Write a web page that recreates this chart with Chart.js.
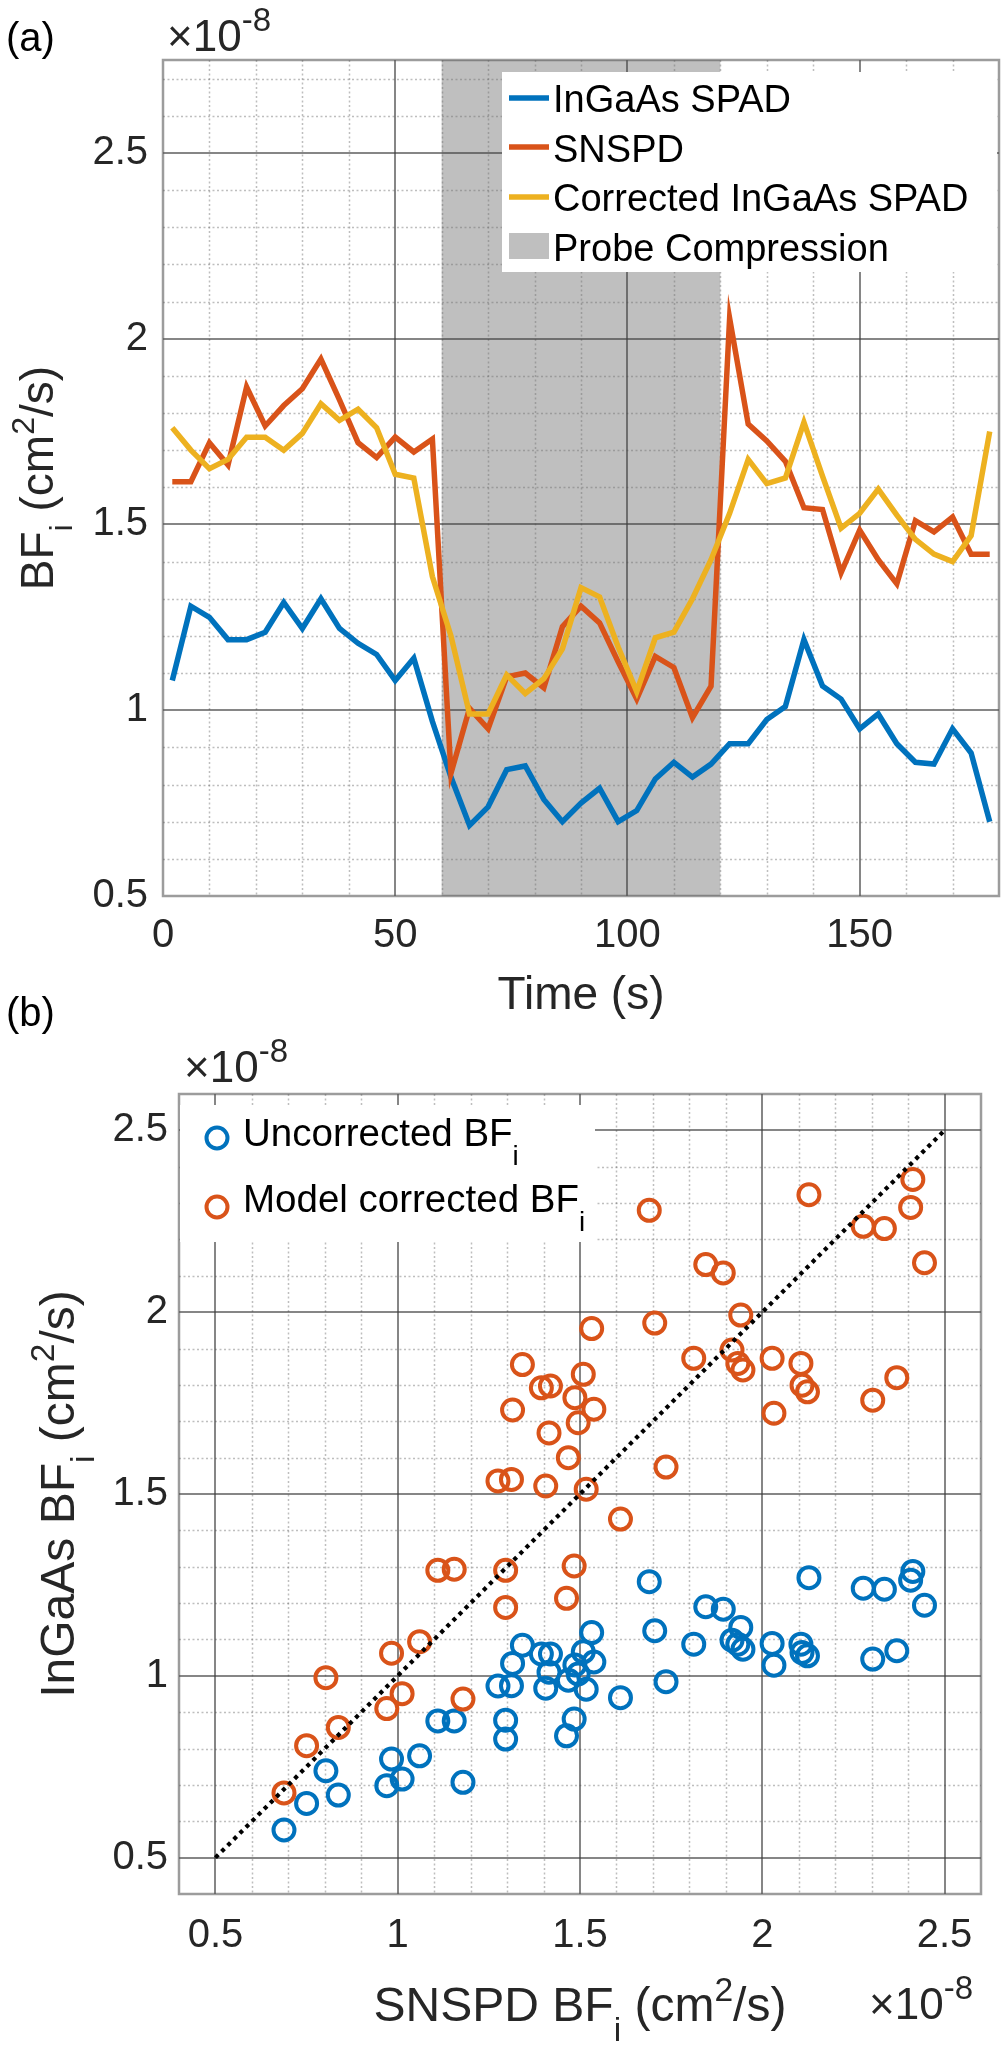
<!DOCTYPE html>
<html>
<head>
<meta charset="utf-8">
<script src="https://cdn.jsdelivr.net/npm/chart.js@4.4.1/dist/chart.umd.min.js"></script>
<style>
  html, body { margin: 0; padding: 0; background: #ffffff; }
  body { width: 1003px; height: 2050px; position: relative; overflow: hidden; }
  #ca { position: absolute; left: 0; top: 0; }
  #cb { position: absolute; left: 0; top: 990px; }
</style>
</head>
<body>
<canvas id="ca" width="1003" height="1030"></canvas>
<canvas id="cb" width="1003" height="1060"></canvas>
<script>
// ---------------- Panel (a) data (BF values in units of 1e-8 cm^2/s) ----------------
const timeS = [2, 6, 10, 14, 18, 22, 26, 30, 34, 38, 42, 46, 50, 54, 58, 62, 66, 70, 74, 78, 82, 86, 90,
  94, 98, 102, 106, 110, 114, 118, 122, 126, 130, 134, 138, 142, 146, 150, 154, 158, 162, 166, 170, 174, 178];
const ingaasSpad = [1.08, 1.28, 1.25, 1.19, 1.19, 1.21, 1.29, 1.22, 1.30, 1.22, 1.18, 1.15, 1.08, 1.14, 0.97,
  0.82, 0.69, 0.74, 0.84, 0.85, 0.76, 0.70, 0.75, 0.79, 0.70, 0.73, 0.815, 0.86, 0.82, 0.855, 0.91, 0.91,
  0.975, 1.01, 1.19, 1.065, 1.03, 0.95, 0.99, 0.91, 0.86, 0.855, 0.95, 0.885, 0.70];
const snspd = [1.615, 1.615, 1.72, 1.66, 1.87, 1.765, 1.82, 1.865, 1.945, 1.835, 1.72, 1.68, 1.735, 1.695, 1.73,
  0.83, 1.005, 0.95, 1.09, 1.10, 1.06, 1.225, 1.28, 1.235, 1.13, 1.03, 1.145, 1.115, 0.98, 1.065, 2.055, 1.77,
  1.725, 1.67, 1.545, 1.54, 1.37, 1.485, 1.405, 1.34, 1.51, 1.48, 1.52, 1.42, 1.42];
const correctedSpad = [1.76, 1.70, 1.65, 1.675, 1.735, 1.735, 1.70, 1.745, 1.825, 1.78, 1.81, 1.76, 1.635, 1.625,
  1.36, 1.20, 0.99, 0.99, 1.095, 1.045, 1.085, 1.165, 1.33, 1.305, 1.17, 1.05, 1.195, 1.21, 1.30, 1.405, 1.53,
  1.675, 1.61, 1.625, 1.775, 1.63, 1.49, 1.53, 1.595, 1.525, 1.46, 1.42, 1.40, 1.47, 1.75];
const probeCompression = [60, 120];
const seriesNamesA = ['InGaAs SPAD', 'SNSPD', 'Corrected InGaAs SPAD', 'Probe Compression'];
const timeTicks = [0, 50, 100, 150];
const bfTicksA = [0.5, 1, 1.5, 2, 2.5];

// ---------------- Panel (b) data (units of 1e-8 cm^2/s) ----------------
const snspdBF = [0.688, 0.750, 0.803, 0.837, 0.970, 0.983, 1.012, 1.060, 1.110, 1.155, 1.179, 1.275, 1.296, 1.296,
  1.312, 1.315, 1.342, 1.394, 1.406, 1.415, 1.419, 1.463, 1.468, 1.484, 1.486, 1.495, 1.509, 1.517, 1.532, 1.538,
  1.611, 1.690, 1.705, 1.736, 1.812, 1.845, 1.893, 1.917, 1.933, 1.941, 1.947, 2.027, 2.032, 2.106, 2.109, 2.124,
  2.128, 2.277, 2.303, 2.335, 2.369, 2.407, 2.413, 2.445];
const uncorrectedBF = [0.576, 0.649, 0.739, 0.672, 0.698, 0.771, 0.716, 0.780, 0.876, 0.876, 0.707, 0.972, 0.878,
  0.826, 0.973, 1.034, 1.084, 1.060, 0.966, 1.010, 1.060, 0.835, 0.988, 0.881, 1.030, 1.005, 1.066, 0.963, 1.119,
  1.038, 0.940, 1.259, 1.124, 0.984, 1.087, 1.190, 1.183, 1.098, 1.087, 1.133, 1.073, 1.089, 1.029, 1.087, 1.064,
  1.055, 1.270, 1.241, 1.046, 1.238, 1.069, 1.263, 1.287, 1.194];
const modelCorrectedBF = [0.678, 0.808, 0.995, 0.858, 0.910, 1.062, 0.951, 1.094, 1.290, 1.293, 0.936, 1.536, 1.290,
  1.188, 1.540, 1.731, 1.856, 1.792, 1.522, 1.668, 1.797, 1.213, 1.600, 1.302, 1.765, 1.696, 1.829, 1.513, 1.955,
  1.733, 1.431, 2.280, 1.970, 1.574, 1.873, 2.131, 2.108, 1.896, 1.859, 1.992, 1.841, 1.873, 1.722, 1.859, 1.799,
  1.781, 2.323, 2.236, 1.758, 2.230, 1.820, 2.288, 2.365, 2.136];
const identityLine = [0.5, 2.5];
const seriesNamesB = ['Uncorrected BF', 'Model corrected BF'];
const bfTicksB = [0.5, 1, 1.5, 2, 2.5];

// ---------------- styling helpers ----------------
const FAM = '"Liberation Sans", Arial, Helvetica, sans-serif';
const TXT = '#262626';
const C_BLUE = '#0072BD', C_RED = '#D95319', C_YEL = '#EDB120', C_PATCH = '#bfbfbf';

function partSize(p, size) { return (p.sub || p.sup) ? size * (p.k || 0.7) : size; }
function richWidth(ctx, parts, size) {
  let w = 0;
  for (const p of parts) {
    ctx.font = partSize(p, size) + 'px ' + FAM;
    w += ctx.measureText(p.t).width;
  }
  return w;
}
function drawRich(ctx, parts, x, y, size, align, rot, color) {
  ctx.save();
  ctx.translate(x, y);
  if (rot) ctx.rotate(rot);
  ctx.fillStyle = color || TXT;
  ctx.textBaseline = 'alphabetic';
  ctx.textAlign = 'left';
  const w = richWidth(ctx, parts, size);
  let cx = align === 'center' ? -w / 2 : 0;
  for (const p of parts) {
    ctx.font = partSize(p, size) + 'px ' + FAM;
    const dy = p.sub ? size * (p.d || 0.42) : (p.sup ? -size * (p.d || 0.42) : 0);
    ctx.fillText(p.t, cx, dy);
    cx += ctx.measureText(p.t).width;
  }
  ctx.restore();
}

function range(a, b, step) { // grid spacing helper (not data)
  const out = [];
  for (let v = a; v <= b + 1e-9; v += step) out.push(Math.round(v * 1000) / 1000);
  return out;
}

function gridPlugin(cfg) {
  return {
    id: 'matlabGrid',
    beforeDatasetsDraw(chart) {
      const { ctx, chartArea: a, scales } = chart;
      const x = scales.x, y = scales.y;
      ctx.save();
      if (cfg.patch) {
        const x0 = x.getPixelForValue(cfg.patch[0]);
        const x1 = x.getPixelForValue(cfg.patch[1]);
        ctx.fillStyle = C_PATCH;
        ctx.fillRect(x0, a.top, x1 - x0, a.bottom - a.top);
      }
      const isMajor = (v, majors) => majors.some(m => Math.abs(m - v) < 1e-6);
      // minor grid
      ctx.setLineDash([2, 2.5]);
      ctx.lineWidth = 1.5;
      ctx.strokeStyle = 'rgba(110,110,110,0.45)';
      for (const v of range(x.min, x.max, cfg.xMinor)) {
        if (isMajor(v, cfg.xMajor) || v <= x.min || v >= x.max) continue;
        const px = Math.round(x.getPixelForValue(v)) + 0.5;
        ctx.beginPath(); ctx.moveTo(px, a.top); ctx.lineTo(px, a.bottom); ctx.stroke();
      }
      for (const v of range(y.min, y.max, cfg.yMinor)) {
        if (isMajor(v, cfg.yMajor) || v <= y.min || v >= y.max) continue;
        const py = Math.round(y.getPixelForValue(v)) + 0.5;
        ctx.beginPath(); ctx.moveTo(a.left, py); ctx.lineTo(a.right, py); ctx.stroke();
      }
      // major grid
      ctx.setLineDash([]);
      ctx.lineWidth = 2;
      ctx.strokeStyle = 'rgba(60,60,60,0.62)';
      for (const v of cfg.xMajor) {
        if (v <= x.min || v >= x.max) continue;
        const px = Math.round(x.getPixelForValue(v));
        ctx.beginPath(); ctx.moveTo(px, a.top); ctx.lineTo(px, a.bottom); ctx.stroke();
      }
      for (const v of cfg.yMajor) {
        if (v <= y.min || v >= y.max) continue;
        const py = Math.round(y.getPixelForValue(v));
        ctx.beginPath(); ctx.moveTo(a.left, py); ctx.lineTo(a.right, py); ctx.stroke();
      }
      ctx.restore();
    },
    afterDatasetsDraw(chart) {
      const { ctx, chartArea: a } = chart;
      ctx.save();
      ctx.lineWidth = 2.5;
      ctx.strokeStyle = 'rgba(90,90,90,0.6)';
      ctx.strokeRect(a.left, a.top, a.right - a.left, a.bottom - a.top);
      ctx.restore();
      if (cfg.after) cfg.after(chart);
    }
  };
}

function baseScale(min, max, ticks, padding, fitFn) {
  return {
    type: 'linear', min: min, max: max,
    afterBuildTicks: s => { s.ticks = ticks.map(v => ({ value: v })); },
    afterFit: fitFn,
    grid: { display: false, drawTicks: false },
    border: { display: false },
    ticks: {
      font: { size: 40, family: FAM }, color: TXT, padding: padding,
      maxRotation: 0, minRotation: 0, autoSkip: false,
      callback: v => String(v)
    }
  };
}

const EXP = [{ t: '\u00d710' }, { t: '-8', sup: true, k: 0.75, d: 0.45 }];

// ---------------- Chart (a) ----------------
const lineDs = (label, vals, color, order) => ({
  type: 'line', label: label,
  data: timeS.map((t, i) => ({ x: t, y: vals[i] })),
  borderColor: color, borderWidth: 5.5, pointRadius: 0, tension: 0, fill: false,
  order: order, borderJoinStyle: 'miter', borderCapStyle: 'butt'
});

const afterA = (chart) => {
  const ctx = chart.ctx;
  ctx.save();
  ctx.fillStyle = '#ffffff';
  ctx.fillRect(502, 72, 495, 200);
  const rows = [
    { name: seriesNamesA[0], color: C_BLUE, cy: 98, base: 112 },
    { name: seriesNamesA[1], color: C_RED, cy: 147, base: 162 },
    { name: seriesNamesA[2], color: C_YEL, cy: 197, base: 211 },
    { name: seriesNamesA[3], color: C_PATCH, cy: 246, base: 261, patch: true }
  ];
  for (const r of rows) {
    if (r.patch) {
      ctx.fillStyle = r.color;
      ctx.fillRect(509, r.cy - 13, 40, 26);
    } else {
      ctx.strokeStyle = r.color; ctx.lineWidth = 5.5;
      ctx.beginPath(); ctx.moveTo(509, r.cy); ctx.lineTo(549, r.cy); ctx.stroke();
    }
    drawRich(ctx, [{ t: r.name }], 553, r.base, 38, 'left', 0, '#000');
  }
  ctx.restore();
  drawRich(ctx, [{ t: '(a)' }], 6, 51, 40, 'left', 0, '#000');
  drawRich(ctx, EXP, 167, 51, 44, 'left', 0, TXT);
  drawRich(ctx, [{ t: 'Time (s)' }], 581, 1009, 46, 'center', 0, TXT);
  drawRich(ctx, [{ t: 'BF' }, { t: 'i', sub: true }, { t: ' (cm' }, { t: '2', sup: true }, { t: '/s)' }],
    53, 478, 46, 'center', -Math.PI / 2, TXT);
};

new Chart(document.getElementById('ca'), {
  type: 'line',
  data: {
    datasets: [
      lineDs(seriesNamesA[0], ingaasSpad, C_BLUE, 3),
      lineDs(seriesNamesA[1], snspd, C_RED, 2),
      lineDs(seriesNamesA[2], correctedSpad, C_YEL, 1)
    ]
  },
  options: {
    responsive: false, animation: false, devicePixelRatio: 1,
    layout: { padding: { top: 60, right: 4, left: 0, bottom: 0 } },
    plugins: { legend: { display: false }, tooltip: { enabled: false } },
    events: [],
    scales: {
      x: baseScale(0, 180, timeTicks, 16, s => { s.height = 134; }),
      y: baseScale(0.5, 2.75, bfTicksA, 15, s => { s.width = 163; })
    }
  },
  plugins: [gridPlugin({
    patch: probeCompression,
    xMajor: timeTicks, yMajor: bfTicksA, xMinor: 10, yMinor: 0.1,
    after: afterA
  })]
});

// ---------------- Chart (b) ----------------
const afterB = (chart) => {
  const ctx = chart.ctx;
  ctx.save();
  ctx.fillStyle = '#ffffff';
  ctx.fillRect(180, 115, 415, 137);
  const rows = [
    { name: seriesNamesB[0], color: C_BLUE, cy: 148, base: 156 },
    { name: seriesNamesB[1], color: C_RED, cy: 217, base: 222 }
  ];
  for (const r of rows) {
    ctx.strokeStyle = r.color; ctx.lineWidth = 4;
    ctx.beginPath(); ctx.arc(217, r.cy, 10.5, 0, Math.PI * 2); ctx.stroke();
    drawRich(ctx, [{ t: r.name }, { t: 'i', sub: true, k: 0.72, d: 0.5 }], 243, r.base, 38.5, 'left', 0, '#000');
  }
  ctx.restore();
  drawRich(ctx, [{ t: '(b)' }], 6, 36, 40, 'left', 0, '#000');
  drawRich(ctx, EXP, 184, 92, 44, 'left', 0, TXT);
  drawRich(ctx, EXP, 869, 1029, 44, 'left', 0, TXT);
  drawRich(ctx, [{ t: 'SNSPD BF' }, { t: 'i', sub: true }, { t: ' (cm' }, { t: '2', sup: true }, { t: '/s)' }],
    580, 1031, 48, 'center', 0, TXT);
  drawRich(ctx, [{ t: 'InGaAs BF' }, { t: 'i', sub: true }, { t: ' (cm' }, { t: '2', sup: true }, { t: '/s)' }],
    74, 504, 48, 'center', -Math.PI / 2, TXT);
};

new Chart(document.getElementById('cb'), {
  type: 'scatter',
  data: {
    datasets: [
      {
        label: seriesNamesB[0],
        data: snspdBF.map((v, i) => ({ x: v, y: uncorrectedBF[i] })),
        borderColor: C_BLUE, backgroundColor: 'rgba(0,0,0,0)',
        pointRadius: 10.5, pointBorderWidth: 4, pointStyle: 'circle', order: 2
      },
      {
        label: seriesNamesB[1],
        data: snspdBF.map((v, i) => ({ x: v, y: modelCorrectedBF[i] })),
        borderColor: C_RED, backgroundColor: 'rgba(0,0,0,0)',
        pointRadius: 10.5, pointBorderWidth: 4, pointStyle: 'circle', order: 1
      },
      {
        type: 'line', label: 'identity',
        data: identityLine.map(v => ({ x: v, y: v })),
        borderColor: '#000000', borderWidth: 4.2, borderDash: [4, 4.6],
        pointRadius: 0, showLine: true, fill: false, order: 0
      }
    ]
  },
  options: {
    responsive: false, animation: false, devicePixelRatio: 1,
    layout: { padding: { top: 104, right: 22, left: 0, bottom: 0 } },
    plugins: { legend: { display: false }, tooltip: { enabled: false } },
    events: [],
    scales: {
      x: baseScale(0.4, 2.6, bfTicksB, 18, s => { s.height = 156; }),
      y: baseScale(0.4, 2.6, bfTicksB, 11, s => { s.width = 179; })
    }
  },
  plugins: [gridPlugin({
    xMajor: bfTicksB, yMajor: bfTicksB, xMinor: 0.1, yMinor: 0.1,
    after: afterB
  })]
});
</script>
</body>
</html>
